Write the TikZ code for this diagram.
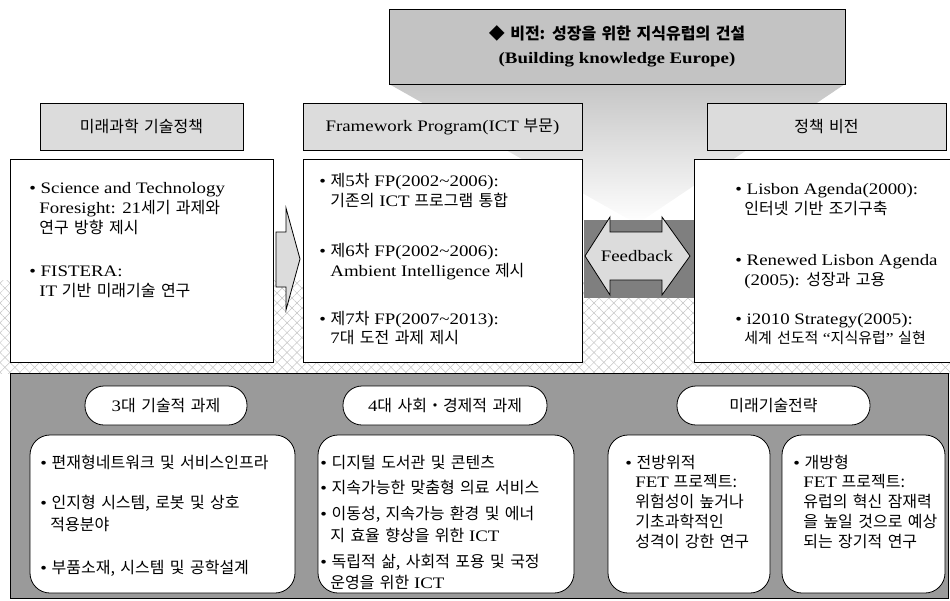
\documentclass[tikz,border=0pt]{standalone}
\usepackage{fontspec}
\setmainfont{Liberation Serif}[FakeStretch=1.18]
\newfontfamily\kr{Noto Sans CJK KR}[WordSpace=1.5]
\usetikzlibrary{patterns.meta}
\newcommand\KR[1]{{\kr #1}}
\newcommand\bul{\textbullet\ }
\definecolor{visgray}{HTML}{C3C3C3}
\definecolor{hdgray}{HTML}{DCDCDC}
\definecolor{panelgray}{HTML}{9A9A9A}
\definecolor{fbgray}{HTML}{7F7F7F}
\definecolor{hatchgray}{HTML}{C4C4C4}
\begin{document}
\begin{tikzpicture}[x=1pt,y=-1pt,line width=0.8pt,
  txt/.style={inner sep=0pt,font=\fontsize{16}{20}\selectfont},
  ln/.style={txt,anchor=base west},
  hdr/.style={draw,fill=hdgray,inner sep=0pt,minimum height=47pt,font=\fontsize{16}{20}\selectfont},
  cbox/.style={draw,fill=white,inner sep=0pt,minimum height=203pt},
  rbox/.style={draw,fill=white,inner sep=0pt,rounded corners=20pt,minimum height=158pt},
  pill/.style={draw,fill=white,inner sep=0pt,rounded corners=19pt,minimum height=39pt,font=\fontsize{16}{20}\selectfont},
  blockarrow/.style={draw,fill=hdgray,line join=miter}
]
\useasboundingbox (0,0) rectangle (950,600);
% hatched band
\fill[pattern={Lines[angle=45,distance=7pt,line width=0.5pt]},pattern color=hatchgray] (0,280) rectangle (950,373);
\fill[pattern={Lines[angle=-45,distance=7pt,line width=0.5pt]},pattern color=hatchgray] (0,280) rectangle (950,373);
% funnel from vision
\shade[top color=visgray!95,bottom color=white] (389,84) -- (845,84) -- (637,224) -- cycle;
% vision box
\node[draw,fill=visgray,inner sep=0pt,minimum width=456pt,minimum height=75pt] (vis) at (617,46.5) {};
\node[txt,font=\fontsize{16}{20}\selectfont\bfseries] (vis1) at (617,33) {\KR{◆ 비전: 성장을 위한 지식유럽의 건설}};
\node[txt,font=\fontsize{16}{20}\selectfont\bfseries] (vis2) at (617,60) {(Building knowledge Europe)};
% headers
\node[hdr,minimum width=203pt] (h1) at (141.5,126.5) {\KR{미래과학 기술정책}};
\node[hdr,minimum width=279pt] (h2) at (442.5,126.5) {Framework Program(ICT \KR{부문})};
\node[hdr,minimum width=239pt] (h3) at (826.5,126.5) {\KR{정책 비전}};
% feedback background
\fill[fbgray] (584,220) rectangle (694,298);
% content boxes
\node[cbox,minimum width=263pt] (c1) at (141.5,260.5) {};
\node[cbox,minimum width=279pt] (c2) at (442.5,260.5) {};
\node[cbox,minimum width=266pt] (c3) at (827,260.5) {};
% arrows
\draw[blockarrow] (276,232) -- (286,232) -- (286,208) -- (300,259) -- (286,310) -- (286,287) -- (276,287) -- cycle;
\draw[blockarrow] (585,256) -- (610,217) -- (610,232) -- (662,232) -- (662,217) -- (690,256) -- (662,295) -- (662,280) -- (610,280) -- (610,295) -- cycle;
\node[txt] (fb) at (637,256) {Feedback};
% top left text
\node[ln] (l1) at (29,193) {\bul Science and Technology};
\node[ln] (l2) at (39,213) {Foresight: 21\KR{세기 과제와}};
\node[ln] (l3) at (39,233) {\KR{연구 방향 제시}};
\node[ln] (l4) at (29,276) {\bul FISTERA:};
\node[ln] (l5) at (39,296) {IT \KR{기반 미래기술 연구}};
% FP text
\node[ln] (f1) at (319,186) {\bul \KR{제}5\KR{차} FP(2002\textasciitilde 2006):};
\node[ln] (f2) at (330,206) {\KR{기존의} ICT \KR{프로그램 통합}};
\node[ln] (f3) at (319,256) {\bul \KR{제}6\KR{차} FP(2002\textasciitilde 2006):};
\node[ln] (f4) at (330,276) {Ambient Intelligence \KR{제시}};
\node[ln] (f5) at (319,324) {\bul \KR{제}7\KR{차} FP(2007\textasciitilde 2013):};
\node[ln] (f6) at (330,343) {7\KR{대 도전 과제 제시}};
% right text
\node[ln] (r1) at (735,194) {\bul Lisbon Agenda(2000):};
\node[ln] (r2) at (744,214) {\KR{인터넷 기반 조기구축}};
\node[ln] (r3) at (735,265) {\bul Renewed Lisbon Agenda};
\node[ln] (r4) at (744,285) {(2005): \KR{성장과 고용}};
\node[ln] (r5) at (735,324) {\bul i2010 Strategy(2005):};
\node[ln,font=\fontsize{15}{20}\selectfont] (r6) at (744,343) {\KR{세계 선도적} “\KR{지식유럽}” \KR{실현}};
% bottom panel
\node[draw,fill=panelgray,inner sep=0pt,minimum width=938pt,minimum height=225pt] (panel) at (479,485.5) {};
\node[pill,minimum width=162pt] (p1) at (166,405.5) {3\KR{대 기술적 과제}};
\node[pill,minimum width=204pt] (p2) at (445,405.5) {4\KR{대 사회・경제적 과제}};
\node[pill,minimum width=193pt] (p3) at (773.5,405.5) {\KR{미래기술전략}};
\node[rbox,minimum width=265pt] (k1) at (162.5,514) {};
\node[rbox,minimum width=256pt] (k2) at (446,514) {};
\node[rbox,minimum width=162pt] (k3) at (689,514) {};
\node[rbox,minimum width=163pt] (k4) at (863.5,514) {};
% bottom left text
\node[ln] (b1) at (40,468) {\bul \KR{편재형네트워크 및 서비스인프라}};
\node[ln] (b2) at (40,508) {\bul \KR{인지형 시스템, 로봇 및 상호}};
\node[ln] (b3) at (50,530) {\KR{적용분야}};
\node[ln] (b4) at (40,573) {\bul \KR{부품소재, 시스템 및 공학설계}};
% bottom middle text
\node[ln] (m1) at (320,468) {\bul \KR{디지털 도서관 및 콘텐츠}};
\node[ln] (m2) at (320,493) {\bul \KR{지속가능한 맞춤형 의료 서비스}};
\node[ln] (m3) at (320,519) {\bul \KR{이동성, 지속가능 환경 및 에너}};
\node[ln] (m4) at (330,541) {\KR{지 효율 향상을 위한} ICT};
\node[ln] (m5) at (320,567) {\bul \KR{독립적 삶, 사회적 포용 및 국정}};
\node[ln] (m6) at (330,588) {\KR{운영을 위한} ICT};
% FET text
\node[ln] (e1) at (625,468) {\bul \KR{전방위적}};
\node[ln] (e2) at (635,487) {FET \KR{프로젝트:}};
\node[ln] (e3) at (635,507) {\KR{위험성이 높거나}};
\node[ln] (e4) at (635,527) {\KR{기초과학적인}};
\node[ln] (e5) at (635,547) {\KR{성격이 강한 연구}};
\node[ln] (g1) at (793,468) {\bul \KR{개방형}};
\node[ln] (g2) at (803,487) {FET \KR{프로젝트:}};
\node[ln] (g3) at (803,507) {\KR{유럽의 혁신 잠재력}};
\node[ln] (g4) at (803,527) {\KR{을 높일 것으로 예상}};
\node[ln] (g5) at (803,547) {\KR{되는 장기적 연구}};
\end{tikzpicture}
\end{document}
